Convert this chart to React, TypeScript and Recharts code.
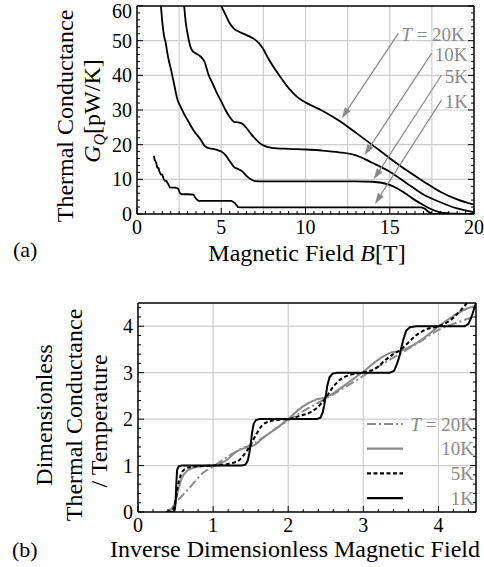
import React from 'react';
import { LineChart, Line, XAxis, YAxis, CartesianGrid, ReferenceLine, Legend } from 'recharts';

const SERIF = '"Liberation Serif", "Times New Roman", serif';
const GRAY = '#8a8a8a';

// ---- (a) thermal conductance G_Q [pW/K] vs magnetic field B [T]
const fieldT20 = [5.0, 5.25, 5.5, 5.75, 6.0, 6.5, 7.0, 7.25, 7.5, 7.75, 8.0, 8.5, 9.0, 9.5, 10, 11, 12, 13, 14, 15, 16, 17, 18, 19, 20];
const condT20 = [60, 57.5, 55, 53.5, 52.7, 51.6, 50.3, 49.2, 47.5, 45.2, 43.2, 39.6, 36.3, 33.8, 32.2, 29.8, 26.9, 23.4, 19.8, 16.1, 12.6, 9.4, 6.4, 4.2, 2.7];

const fieldT10 = [2.8, 2.9, 3.0, 3.25, 3.5, 3.75, 4.0, 4.25, 4.5, 4.75, 5.0, 5.25, 5.5, 5.75, 6.0, 6.25, 6.5, 6.75, 7.0, 7.25, 7.5, 8.0, 9, 10, 11, 12, 13, 14, 15, 16, 17, 18, 19, 20];
const condT10 = [60, 55, 52, 47.3, 46.3, 45.5, 44, 40.1, 37.5, 34.8, 32.5, 30, 28, 26.6, 26.4, 26.0, 24.8, 23.2, 21.8, 20.6, 19.8, 19.1, 18.8, 18.6, 18.3, 17.8, 16.9, 14.7, 12.2, 8.9, 5.6, 3.4, 1.6, 0.5];

const fieldT5 = [1.42, 1.5, 1.6, 1.7, 1.8, 1.9, 2.0, 2.2, 2.4, 2.6, 2.8, 3.0, 3.2, 3.4, 3.6, 3.8, 4.0, 4.25, 4.5, 4.75, 5.0, 5.25, 5.5, 5.75, 6.0, 6.25, 6.5, 6.75, 7.0, 7.5, 10, 13, 14, 15, 15.5, 16, 16.5, 17, 17.5, 18, 18.5, 19, 20];
const condT5 = [60, 55.5, 51.5, 49.5, 46.5, 44, 42, 37.5, 33, 30.8, 28.8, 27.1, 25.4, 23.8, 22.6, 21.3, 19.7, 19.0, 18.8, 18.5, 18.0, 17.0, 15.3, 13.6, 13.0, 12.3, 11.0, 10.0, 9.5, 9.4, 9.4, 9.4, 9.3, 8.4, 7.2, 5.7, 4.0, 2.6, 1.3, 0.5, 0.2, 0.1, 0];

const fieldT1 = [1.0, 1.05, 1.1, 1.15, 1.2, 1.28, 1.35, 1.42, 1.5, 1.58, 1.65, 1.75, 1.85, 1.95, 2.1, 2.3, 2.45, 2.55, 2.65, 3.0, 3.35, 3.5, 3.65, 4.5, 5.6, 5.8, 6.0, 6.2, 10, 15, 16.9, 17.1, 17.3, 17.5, 18, 20];
const condT1 = [16.8, 15.6, 15.2, 14.6, 13.4, 13.2, 12.0, 11.4, 11.3, 10.2, 9.6, 9.5, 8.6, 7.7, 7.6, 7.6, 7.3, 6.0, 5.7, 5.7, 5.6, 4.4, 3.8, 3.8, 3.8, 3.2, 2.0, 1.9, 1.9, 1.9, 1.9, 1.5, 0.6, 0.1, 0, 0];

const fieldLabels = [0, 5, 10, 15, 20];
const condLabels = [0, 10, 20, 30, 40, 50, 60];
const fieldGrid = [2.5, 5, 7.5, 10, 12.5, 15, 17.5];
const condGrid = [10, 20, 30, 40, 50];

// arrows pointing from the temperature labels to the curves
const arrowNames = ['20K', '10K', '5K', '1K'];
const arrowFromB = [15.51, 17.49, 18.08, 18.08];
const arrowFromG = [52.1, 46.4, 40.1, 32.9];
const arrowToB = [12.15, 13.5, 14.05, 14.12];
const arrowToG = [27.6, 17.0, 10.0, 2.9];

// ---- (b) dimensionless conductance / temperature vs inverse dimensionless field
const invT20 = [0.38, 0.45, 0.5, 0.6, 0.74, 0.87, 1.0, 1.2, 1.4, 1.5, 1.75, 2.0, 2.25, 2.5, 2.75, 3.0, 3.25, 3.5, 3.75, 4.0, 4.25, 4.5];
const dimT20 = [0, 0.08, 0.2, 0.37, 0.62, 0.85, 0.98, 1.2, 1.38, 1.44, 1.7, 1.97, 2.22, 2.44, 2.68, 2.93, 3.18, 3.42, 3.66, 3.92, 4.08, 4.22];

const invT10 = [0.38, 0.44, 0.49, 0.54, 0.58, 0.65, 0.78, 0.9, 1.0, 1.18, 1.31, 1.44, 1.55, 1.66, 1.84, 2.0, 2.19, 2.37, 2.5, 2.63, 2.81, 3.0, 3.2, 3.35, 3.5, 3.65, 3.85, 4.0, 4.2, 4.35, 4.5];
const dimT10 = [0, 0.05, 0.19, 0.5, 0.72, 0.88, 0.97, 0.99, 1.0, 1.12, 1.3, 1.39, 1.44, 1.59, 1.8, 2.0, 2.27, 2.42, 2.47, 2.59, 2.8, 3.02, 3.28, 3.42, 3.47, 3.58, 3.8, 4.0, 4.22, 4.36, 4.44];

const invT5 = [0.38, 0.44, 0.48, 0.5, 0.53, 0.57, 0.62, 0.7, 0.85, 1.0, 1.15, 1.25, 1.35, 1.42, 1.5, 1.57, 1.65, 1.75, 1.9, 2.0, 2.15, 2.3, 2.4, 2.5, 2.6, 2.7, 2.8, 2.95, 3.15, 3.3, 3.4, 3.5, 3.6, 3.7, 3.85, 4.0, 4.15, 4.3, 4.38];
const dimT5 = [0, 0.03, 0.1, 0.25, 0.55, 0.8, 0.92, 0.97, 0.99, 1.0, 1.02, 1.05, 1.12, 1.25, 1.45, 1.66, 1.86, 1.95, 1.99, 2.0, 2.07, 2.15, 2.27, 2.46, 2.7, 2.86, 2.94, 2.99, 3.08, 3.28, 3.4, 3.5, 3.65, 3.8, 3.94, 4.0, 4.12, 4.35, 4.5];

const invT1 = [0.38, 0.47, 0.49, 0.5, 0.51, 0.52, 0.54, 0.58, 1.0, 1.38, 1.43, 1.46, 1.48, 1.5, 1.52, 1.54, 1.57, 1.62, 2.0, 2.38, 2.43, 2.46, 2.48, 2.5, 2.52, 2.55, 2.59, 2.65, 3.0, 3.35, 3.41, 3.45, 3.48, 3.5, 3.53, 3.57, 3.62, 3.7, 4.0, 4.35, 4.4, 4.44, 4.47, 4.5];
const dimT1 = [0, 0, 0.05, 0.2, 0.6, 0.9, 0.98, 1.0, 1.0, 1.0, 1.02, 1.1, 1.25, 1.45, 1.72, 1.9, 1.98, 2.0, 2.0, 2.0, 2.03, 2.15, 2.3, 2.5, 2.72, 2.9, 2.98, 3.0, 3.0, 3.0, 3.04, 3.2, 3.35, 3.5, 3.7, 3.9, 3.98, 4.0, 4.0, 4.0, 4.05, 4.2, 4.35, 4.5];

const invLabels = [0, 1, 2, 3, 4];
const dimLabels = [0, 1, 2, 3, 4];
const invGrid = [1, 2, 3, 4];
const dimGrid = [1, 2, 3, 4];

const tempNames = ['20K', '10K', '5K', '1K'];
const tempColors = [GRAY, GRAY, '#000', '#000'];
const tempDashes = ['9 3 2 3', undefined, '4 2.5', undefined];

const zip = (xs: number[], ys: number[], xKey: string, yKey: string) =>
  xs.map((x, i) => ({ [xKey]: x, [yKey]: ys[i] }));

const steps = (lo: number, hi: number, step: number) => {
  const out: number[] = [];
  for (let v = lo; v <= hi + 1e-9; v += step) out.push(Math.round(v * 1000) / 1000);
  return out;
};

type Side = 'bottom' | 'top' | 'left' | 'right';

// inward frame ticks, labels only on the outer (bottom/left) sides
const frameTick = (side: Side, labels: number[]) => (props: any) => {
  const { x, y, payload } = props;
  const v = payload.value;
  const major = labels.some((m) => Math.abs(m - v) < 1e-6);
  const len = major ? 6 : 3;
  let end = { x, y };
  if (side === 'bottom') end = { x, y: y - len };
  if (side === 'top') end = { x, y: y + len };
  if (side === 'left') end = { x: x + len, y };
  if (side === 'right') end = { x: x - len, y };
  return (
    <g>
      <line x1={x} y1={y} x2={end.x} y2={end.y} stroke="#000" strokeWidth={1} />
      {major && side === 'bottom' && (
        <text x={x} y={y + 20} textAnchor="middle" fontFamily={SERIF} fontSize={20} fill="#000">{v}</text>
      )}
      {major && side === 'left' && (
        <text x={x - 5} y={Math.max(y, 11)} dy="0.35em" textAnchor="end" fontFamily={SERIF} fontSize={20} fill="#000">{v}</text>
      )}
    </g>
  );
};

const arrowShape = (name: string, withT: boolean) => (props: any) => {
  const { x1, y1, x2, y2 } = props;
  const ang = Math.atan2(y2 - y1, x2 - x1);
  const L = 11;
  const W = 3.5;
  const bx = x2 - L * Math.cos(ang);
  const by = y2 - L * Math.sin(ang);
  const px = -Math.sin(ang) * W;
  const py = Math.cos(ang) * W;
  return (
    <g>
      <line x1={x1} y1={y1} x2={bx} y2={by} stroke={GRAY} strokeWidth={1.2} />
      <polygon points={`${x2},${y2} ${bx + px},${by + py} ${bx - px},${by - py}`} fill={GRAY} />
      <text x={x1 + 3} y={y1 + 8} fontFamily={SERIF} fontSize={19} fill={GRAY}>
        {withT && <tspan fontStyle="italic">T</tspan>}
        {withT ? ` = ${name}` : name}
      </text>
    </g>
  );
};

const frameLine = { stroke: '#000', strokeWidth: 1.5 };

const PanelA = () => (
  <LineChart width={484} height={270} margin={{ top: 5, right: 9, bottom: 26, left: 97 }}>
    <CartesianGrid stroke="#cdcdcd" strokeWidth={1.2} verticalValues={fieldGrid} horizontalValues={condGrid} />
    <XAxis
      type="number"
      dataKey="B"
      domain={[0, 20]}
      allowDataOverflow
      ticks={steps(0, 20, 0.5)}
      interval={0}
      tickSize={0}
      tickMargin={0}
      height={30}
      axisLine={frameLine}
      tick={frameTick('bottom', fieldLabels)}
      label={() => (
        <g>
          <text x={307} y={261} textAnchor="middle" fontFamily={SERIF} fontSize={24} fill="#000">
            Magnetic Field <tspan fontStyle="italic">B</tspan>[T]
          </text>
          <text x={13} y={257} fontFamily={SERIF} fontSize={22} fill="#000">(a)</text>
        </g>
      )}
    />
    <XAxis
      xAxisId="top"
      orientation="top"
      type="number"
      domain={[0, 20]}
      allowDataOverflow
      ticks={steps(0, 20, 0.5)}
      interval={0}
      tickSize={0}
      tickMargin={0}
      height={1}
      axisLine={frameLine}
      tick={frameTick('top', fieldLabels)}
    />
    <YAxis
      type="number"
      domain={[0, 60]}
      allowDataOverflow
      ticks={steps(0, 60, 2)}
      interval={0}
      tickSize={0}
      tickMargin={0}
      width={40}
      axisLine={frameLine}
      tick={frameTick('left', condLabels)}
      label={() => (
        <g fontFamily={SERIF} fontSize={24} fill="#000">
          <text x={73} y={116} textAnchor="middle" transform="rotate(-90 73 116)">Thermal Conductance</text>
          <text x={100} y={111} textAnchor="middle" transform="rotate(-90 100 111)">
            <tspan fontStyle="italic">G</tspan>
            <tspan fontStyle="italic" fontSize={16} dy={5}>Q</tspan>
            <tspan dy={-5}>[pW/K]</tspan>
          </text>
        </g>
      )}
    />
    <YAxis
      yAxisId="right"
      orientation="right"
      type="number"
      domain={[0, 60]}
      allowDataOverflow
      ticks={steps(0, 60, 2)}
      interval={0}
      tickSize={0}
      tickMargin={0}
      width={1}
      axisLine={frameLine}
      tick={frameTick('right', condLabels)}
    />
    <Line data={zip(fieldT20, condT20, 'B', 'G')} dataKey="G" type="monotone" stroke="#000" strokeWidth={1.8} dot={false} isAnimationActive={false} />
    <Line data={zip(fieldT10, condT10, 'B', 'G')} dataKey="G" type="monotone" stroke="#000" strokeWidth={1.8} dot={false} isAnimationActive={false} />
    <Line data={zip(fieldT5, condT5, 'B', 'G')} dataKey="G" type="monotone" stroke="#000" strokeWidth={1.8} dot={false} isAnimationActive={false} />
    <Line data={zip(fieldT1, condT1, 'B', 'G')} dataKey="G" type="linear" stroke="#000" strokeWidth={1.8} dot={false} isAnimationActive={false} />
    {arrowNames.map((name, i) => (
      <ReferenceLine
        key={name}
        segment={[
          { x: arrowFromB[i], y: arrowFromG[i] },
          { x: arrowToB[i], y: arrowToG[i] },
        ]}
        shape={arrowShape(name, i === 0)}
      />
    ))}
  </LineChart>
);

const PanelBLegend = () => (
  <svg width={114} height={96}>
    {tempNames.map((name, i) => {
      const y = 12 + i * 24.7;
      return (
        <g key={name}>
          <line x1={4} x2={40} y1={y} y2={y} stroke={tempColors[i]} strokeWidth={2.2} strokeDasharray={tempDashes[i]} />
          <text x={111} y={y} dy="0.35em" textAnchor="end" fontFamily={SERIF} fontSize={19} fill={GRAY}>
            {i === 0 && <tspan fontStyle="italic">T</tspan>}
            {i === 0 ? ` = ${name}` : name}
          </text>
        </g>
      );
    })}
  </svg>
);

const seriesB = [
  { x: invT20, y: dimT20 },
  { x: invT10, y: dimT10 },
  { x: invT5, y: dimT5 },
  { x: invT1, y: dimT1 },
];

const PanelB = () => (
  <LineChart width={484} height={287} margin={{ top: 22, right: 7, bottom: 25, left: 98 }}>
    <CartesianGrid stroke="#cdcdcd" strokeWidth={1.2} verticalValues={invGrid} horizontalValues={dimGrid} />
    <XAxis
      type="number"
      dataKey="u"
      domain={[0, 4.5]}
      allowDataOverflow
      ticks={steps(0, 4.4, 0.2)}
      interval={0}
      tickSize={0}
      tickMargin={0}
      height={30}
      axisLine={frameLine}
      tick={frameTick('bottom', invLabels)}
      label={() => (
        <g>
          <text x={295} y={277} textAnchor="middle" fontFamily={SERIF} fontSize={24} fill="#000">
            Inverse Dimensionless Magnetic Field
          </text>
          <text x={12} y={277} fontFamily={SERIF} fontSize={22} fill="#000">(b)</text>
        </g>
      )}
    />
    <XAxis
      xAxisId="top"
      orientation="top"
      type="number"
      domain={[0, 4.5]}
      allowDataOverflow
      ticks={steps(0, 4.4, 0.2)}
      interval={0}
      tickSize={0}
      tickMargin={0}
      height={1}
      axisLine={frameLine}
      tick={frameTick('top', invLabels)}
    />
    <YAxis
      type="number"
      domain={[0, 4.5]}
      allowDataOverflow
      ticks={steps(0, 4.4, 0.2)}
      interval={0}
      tickSize={0}
      tickMargin={0}
      width={40}
      axisLine={frameLine}
      tick={frameTick('left', dimLabels)}
      label={() => (
        <g fontFamily={SERIF} fontSize={24} fill="#000">
          <text x={52} y={135} textAnchor="middle" transform="rotate(-90 52 135)">Dimensionless</text>
          <text x={82} y={135} textAnchor="middle" transform="rotate(-90 82 135)">Thermal Conductance</text>
          <text x={107} y={141} textAnchor="middle" transform="rotate(-90 107 141)">/ Temperature</text>
        </g>
      )}
    />
    <YAxis
      yAxisId="right"
      orientation="right"
      type="number"
      domain={[0, 4.5]}
      allowDataOverflow
      ticks={steps(0, 4.4, 0.2)}
      interval={0}
      tickSize={0}
      tickMargin={0}
      width={1}
      axisLine={frameLine}
      tick={frameTick('right', dimLabels)}
    />
    {seriesB.map((s, i) => (
      <Line
        key={tempNames[i]}
        data={zip(s.x, s.y, 'u', 'v')}
        dataKey="v"
        type={i === 3 ? 'linear' : 'monotone'}
        stroke={tempColors[i]}
        strokeWidth={2}
        strokeDasharray={tempDashes[i]}
        dot={false}
        isAnimationActive={false}
      />
    ))}
    <Legend
      layout="vertical"
      align="center"
      verticalAlign="middle"
      content={() => <PanelBLegend />}
      wrapperStyle={{ position: 'absolute', left: 363, top: 132, width: 114, height: 96 }}
    />
  </LineChart>
);

export default function App() {
  return (
    <div style={{ position: 'absolute', left: 0, top: 0, width: 484, height: 567, background: '#fff' }}>
      <div style={{ position: 'absolute', left: 0, top: 0 }}>
        <PanelA />
      </div>
      <div style={{ position: 'absolute', left: 0, top: 280 }}>
        <PanelB />
      </div>
    </div>
  );
}
